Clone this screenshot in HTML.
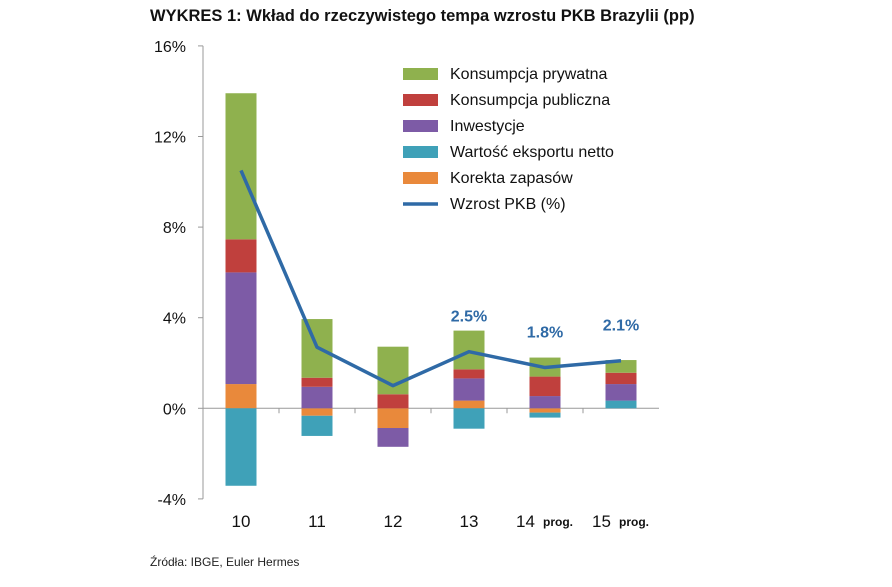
<!DOCTYPE html>
<html><head><meta charset="utf-8"><style>
body{margin:0;background:#fff;font-family:"Liberation Sans",Arial,sans-serif}
svg text{font-family:"Liberation Sans",Arial,sans-serif}
</style></head><body>
<svg width="892" height="582" viewBox="0 0 892 582" xmlns="http://www.w3.org/2000/svg">
<rect width="892" height="582" fill="#fff"/>
<text x="150" y="21" font-size="16.5" font-weight="bold" fill="#111">WYKRES 1: Wkład do rzeczywistego tempa wzrostu PKB Brazylii (pp)</text>
<g id="axes"></g><g id="bars"></g><g id="line"></g><g id="legend"></g>
<text x="150" y="566" font-size="12" fill="#222">Źródła: IBGE, Euler Hermes</text>
<script>
const categories=["10","11","12","13","14","15"];
const yTicks=[16,12,8,4,0,-4];
const seriesNames=["Konsumpcja prywatna","Konsumpcja publiczna","Inwestycje","Wartość eksportu netto","Korekta zapasów"];
const privCons=[6.45,2.59,2.1,1.71,0.84,0.56];
const pubCons=[1.46,0.4,0.62,0.4,0.86,0.5];
const invest=[4.93,0.95,-0.83,0.98,0.54,0.73];
const netExp=[-3.42,-0.89,0,-0.9,-0.22,0.34];
const stocks=[1.07,-0.33,-0.87,0.34,-0.19,0];
const gdp=[10.5,2.7,1.0,2.5,1.8,2.1];
const gdpLabels=["","","","2.5%","1.8%","2.1%"];
const colors=["#8fb14e","#c0403d","#7d5ba6","#3fa1b8","#e9893b"];
const NS="http://www.w3.org/2000/svg";
const x0=203,cw=76,zeroY=408.3,ppu=22.65;
const y=v=>zeroY-v*ppu;const xc=i=>x0+cw*(i+0.5);
function mk(t,a,p){const e=document.createElementNS(NS,t);for(const k in a)e.setAttribute(k,a[k]);p.appendChild(e);return e;}
const ax=document.getElementById('axes');
let e=mk('line',{x1:x0,y1:y(16),x2:x0,y2:y(-4),stroke:'#999'},ax);

e=mk('line',{x1:x0,y1:zeroY,x2:x0+cw*6,y2:zeroY,stroke:'#999'},ax);

yTicks.forEach(t=>{mk('line',{x1:x0-5,y1:y(t),x2:x0,y2:y(t),stroke:'#999'},ax);
const tx=mk('text',{x:186,y:y(t)+6,'font-size':16,'text-anchor':'end',fill:'#111'},ax);tx.textContent=t+'%';
});
for(let i=1;i<6;i++)mk('line',{x1:x0+cw*i,y1:zeroY,x2:x0+cw*i,y2:zeroY+5,stroke:'#999'},ax);
categories.forEach((c,i)=>{const prog=i>=4;const cx=prog?xc(i)-29:xc(i);
const tx=mk('text',{x:cx,y:527,'font-size':17,'text-anchor':prog?'start':'middle',fill:'#111'},ax);tx.textContent=c;

if(prog){const p=mk('text',{x:cx+27,y:526,'font-size':12,'font-weight':'bold',fill:'#111'},ax);p.textContent='prog.';
}});
const bg=document.getElementById('bars');
const order=[[stocks,4],[netExp,3],[invest,2],[pubCons,1],[privCons,0]];
categories.forEach((c,i)=>{let pos=0,neg=0;order.forEach(([arr,ci])=>{const v=arr[i];if(!v)return;let a,b;
if(v>0){a=pos;b=pos+v;pos=b;}else{a=neg;b=neg+v;neg=b;}
const r=mk('rect',{x:xc(i)-15.5,y:y(Math.max(a,b)),width:31,height:Math.abs(v)*ppu,fill:colors[ci]},bg);
});});
const lg=document.getElementById('line');
const pl=mk('polyline',{points:gdp.map((v,i)=>xc(i)+','+y(v)).join(' '),fill:'none',stroke:'#2f6aa6','stroke-width':3.5,'stroke-linejoin':'round'},lg);

gdpLabels.forEach((l,i)=>{if(!l)return;const t=mk('text',{x:xc(i),y:y(gdp[i])-30,'font-size':16,'font-weight':'bold','text-anchor':'middle',fill:'#2f6aa6'},lg);t.textContent=l;
});
const lgd=document.getElementById('legend');
seriesNames.concat(["Wzrost PKB (%)"]).forEach((n,k)=>{const yy=74+k*26;
let s;if(k<5)s=mk('rect',{x:403,y:yy-6,width:35,height:12,fill:colors[k]},lgd);
else s=mk('line',{x1:403,y1:yy,x2:438,y2:yy,stroke:'#2f6aa6','stroke-width':3.5},lgd);

const t=mk('text',{x:450,y:yy+5,'font-size':16,fill:'#111'},lgd);t.textContent=n;
});
</script>
</svg>
</body></html>
